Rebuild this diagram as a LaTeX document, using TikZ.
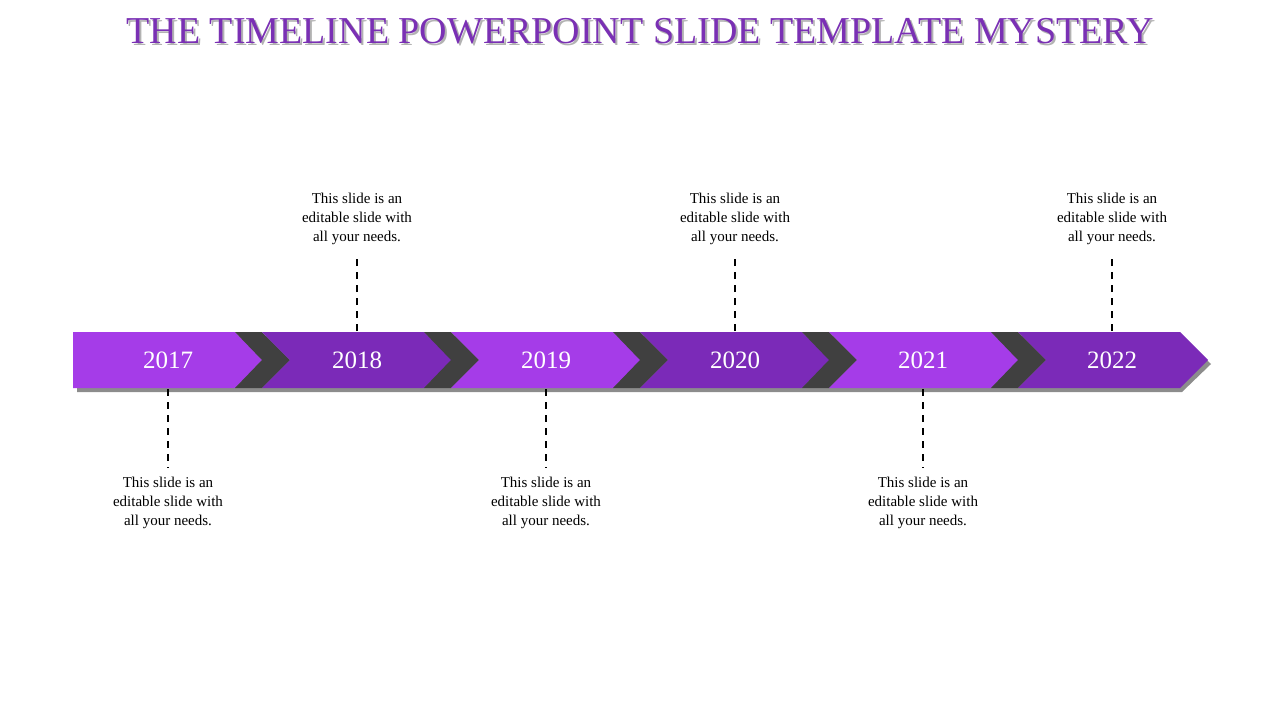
\documentclass[tikz,border=0pt]{standalone}
\usepackage{fontspec}
\setmainfont{Liberation Serif}
\begin{document}
\begin{tikzpicture}[x=1pt,y=-1pt,
  light/.style={fill={rgb,255:red,165;green,60;blue,232}},
  dark/.style={fill={rgb,255:red,123;green,42;blue,184}},
  chev/.style={fill={rgb,255:red,64;green,64;blue,64}},
  shad/.style={fill=black!45},
  yr/.style={text=white,font=\fontsize{25}{28}\selectfont},
  desc/.style={align=center,font=\fontsize{15}{19}\selectfont,text=black},
  dsh/.style={line width=2.2pt,dash pattern=on 7pt off 6pt}]
\useasboundingbox (0,0) rectangle (1280,720);
\node[font=\fontsize{38}{40}\selectfont,text=black!30] at (642,33) {THE TIMELINE POWERPOINT SLIDE TEMPLATE MYSTERY};
\node (title) [font=\fontsize{38}{40}\selectfont,text={rgb,255:red,122;green,48;blue,180}] at (640,31) {THE TIMELINE POWERPOINT SLIDE TEMPLATE MYSTERY};
% shadow
\fill[shad] (77,336) -- (1182,336) -- (1211,364) -- (1182,392) -- (77,392) -- cycle;
% first segment
\fill[light] (73,332) -- (235,332) -- (262,360) -- (235,388) -- (73,388) -- cycle;
\foreach \k in {1,...,5}{
  \pgfmathsetmacro\L{262+189*(\k-1)}
  \pgfmathsetmacro\R{\L+162}
  \pgfmathsetmacro\B{\L-27}
  \fill[chev] (\B,332) -- (\L,332) -- (\L+28,360) -- (\L,388) -- (\B,388) -- (\L,360) -- cycle;
  \pgfmathtruncatemacro\odd{mod(\k,2)}
  \ifnum\odd=1 \def\st{dark}\else\def\st{light}\fi
  \fill[\st] (\L,332) -- (\R,332) -- (\R+28,360) -- (\R,388) -- (\L,388) -- (\L+28,360) -- cycle;
}
\foreach \yy/\x [count=\i] in {2017/168,2018/357,2019/546,2020/735,2021/923,2022/1112}{
  \node[yr] (y\i) at (\x,360) {\yy};
  \pgfmathtruncatemacro\odd{mod(\i,2)}
  \ifnum\odd=1
    \coordinate (a\i) at (\x,389); \coordinate (b\i) at (\x,468);
    \node[desc] (d\i) at (\x,503) {This slide is an\\editable slide with\\all your needs.};
  \else
    \coordinate (a\i) at (\x,331); \coordinate (b\i) at (\x,253);
    \node[desc] (d\i) at (\x,219) {This slide is an\\editable slide with\\all your needs.};
  \fi
  \draw[dsh] (a\i) -- (b\i);
}
\end{tikzpicture}
\end{document}
